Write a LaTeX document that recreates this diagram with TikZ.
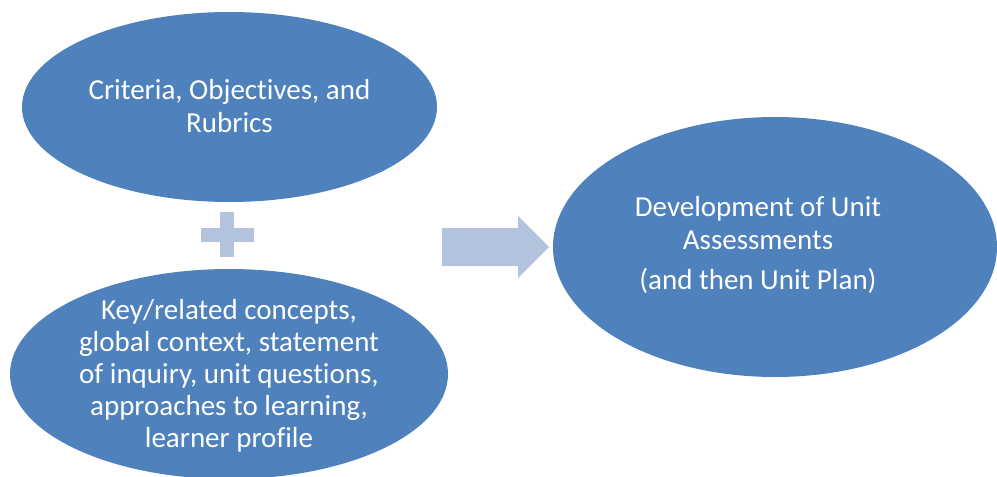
\documentclass[tikz,border=0pt]{standalone}
\usepackage{fontspec}
\setmainfont[Ligatures=NoCommon]{Carlito}
\usetikzlibrary{shapes.geometric}
\definecolor{bubble}{RGB}{79,129,189}
\definecolor{joiner}{RGB}{179,195,222}
\tikzset{
  bubble/.style={ellipse, fill=bubble, inner sep=0pt},
  caption/.style={text=white, align=center, inner sep=0pt,
    font=\fontsize{29}{32.5}\selectfont},
  joiner/.style={fill=joiner, draw=none},
}
\begin{document}
\begin{tikzpicture}[x=1pt,y=-1pt]
  \useasboundingbox (0,0) rectangle (997,477);
  % inputs on the left
  \node[bubble, minimum width=415pt, minimum height=190pt] (crit) at (229.5,107) {};
  \node[caption] (crittext) at (229.5,106) {Criteria, Objectives, and\\Rubrics};
  \node[bubble, minimum width=438pt, minimum height=210pt] (key) at (229,374) {};
  \node[caption, font=\fontsize{29}{32}\selectfont] (keytext) at (229,376)
    {Key/related concepts,\\global context, statement\\of inquiry, unit questions,\\approaches to learning,\\learner profile};
  % outcome on the right
  \node[bubble, minimum width=444pt, minimum height=260pt] (dev) at (775,247) {};
  \node[caption] (devtext) at (758,245)
    {Development of Unit\\Assessments\\[8pt](and then Unit Plan)};
  % plus sign between the two inputs
  \fill[joiner] (200.5,227.5) rectangle (253.5,241.5);
  \fill[joiner] (220,212) rectangle (234,257);
  % block arrow leading to the outcome
  \coordinate (leads) at (442,247);
  \fill[joiner] (leads) ++(0,-19) -- ++(76,0) -- ++(0,-12) -- (549,247)
    -- (518,278) -- ++(0,-12) -- (442,266) -- cycle;
\end{tikzpicture}
\end{document}
